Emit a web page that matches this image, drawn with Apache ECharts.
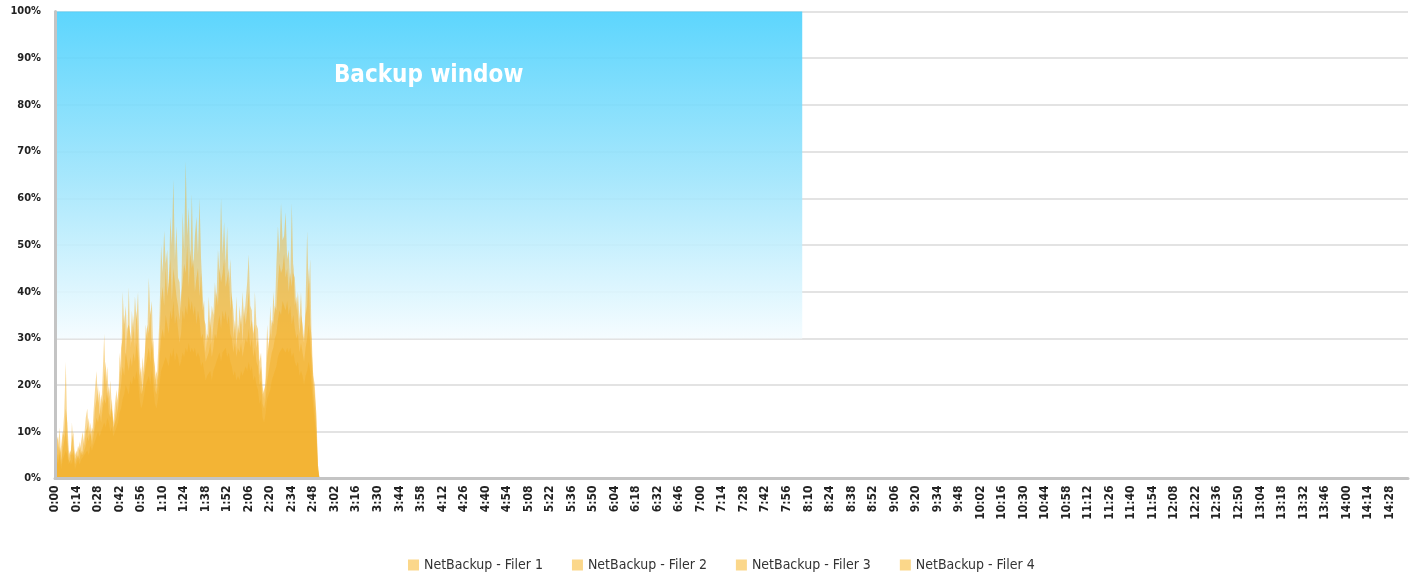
<!DOCTYPE html>
<html>
<head>
<meta charset="utf-8">
<script src="https://cdn.jsdelivr.net/npm/echarts@6/dist/echarts.min.js"></script>
<style>
html,body{margin:0;padding:0;background:#fff;}
#chart{width:1416px;height:578px;}
</style>
</head>
<body>
<div id="chart"></div>
<script>
// Time categories: one per minute, 0:00 .. 14:40
const categories = [];
for (let m = 0; m <= 880; m++) {
  categories.push(Math.floor(m / 60) + ':' + String(m % 60).padStart(2, '0'));
}
const seriesNames = ['NetBackup - Filer 1', 'NetBackup - Filer 2', 'NetBackup - Filer 3', 'NetBackup - Filer 4'];
const backupWindow = { start: '0:00', end: '8:06', low: 30, high: 100, label: 'Backup window' };

// Utilisation (%) per minute from 0:00 to 2:52
const filer1 = [
  3,11,6,11,4,9,14,25,10,4,
  3,12,7,5,6,4,8,5,6,9,
  13,15,9,12,8,14,19,23,16,19,
  14,22,31,20,24,17,21,15,12,16,
  19,14,27,22,40,33,37,30,41,28,
  36,31,39,34,40,27,20,26,22,33,
  30,43,35,38,26,24,19,27,35,50,
  44,53,46,49,40,56,50,64,47,54,
  43,42,36,57,49,68,52,58,46,61,
  45,52,56,48,60,47,40,34,33,29,
  39,32,37,35,42,38,49,44,60,48,
  55,46,54,41,47,39,36,31,39,30,
  37,33,40,34,38,42,48,37,36,29,
  40,33,32,25,27,20,17,22,33,27,
  37,30,40,35,46,54,48,59,51,52,
  57,47,49,42,59,44,43,36,40,34,
  40,31,29,38,53,40,47,27,22,20,
  12,2,0
];
const filer2 = [
  2,8,9,5,7,10,9,15,12,6,
  5,8,10,4,5,7,6,8,10,7,
  10,11,13,9,11,10,15,17,20,13,
  18,16,22,25,17,20,14,17,10,13,
  16,18,21,28,30,35,26,32,33,31,
  29,35,28,36,30,22,24,18,25,29,
  33,31,36,27,30,21,23,21,30,38,
  41,37,45,39,42,47,38,45,42,39,
  37,34,39,42,46,44,50,41,49,45,
  47,40,43,45,39,44,36,38,27,31,
  30,35,29,33,36,40,37,45,42,44,
  47,41,43,45,36,40,30,34,28,33,
  31,35,29,37,33,36,40,32,34,31,
  33,28,30,22,24,18,19,20,26,29,
  31,34,33,37,36,42,46,44,45,48,
  43,45,40,44,41,46,37,39,35,31,
  35,33,30,35,37,45,33,30,21,18,
  14,3,0
];
const filer3 = [
  4,6,4,7,3,6,8,10,7,4,
  6,5,6,3,4,5,4,6,5,6,
  7,9,8,10,7,9,11,13,12,14,
  12,15,17,16,19,14,13,15,11,12,
  13,15,18,20,24,22,27,25,23,26,
  24,27,25,29,26,20,18,19,22,24,
  26,28,25,30,22,19,18,20,26,30,
  32,30,35,33,31,36,34,38,33,35,
  32,29,31,36,34,37,35,39,36,38,
  35,37,33,36,34,30,31,28,25,26,
  27,29,26,28,31,30,33,35,32,36,
  34,36,33,35,31,30,27,29,26,28,
  27,29,26,28,30,29,32,28,30,26,
  28,25,24,20,21,16,15,17,21,23,
  25,27,28,30,31,34,36,35,38,37,
  36,38,35,37,33,35,32,30,31,27,
  29,27,25,28,30,33,29,24,18,15,
  10,3,0
];
const filer4 = [
  2,4,3,5,2,4,5,6,5,3,
  4,3,5,2,3,4,3,4,4,5,
  5,6,5,7,6,7,8,9,10,9,
  10,11,12,11,13,12,10,11,9,10,
  11,12,14,15,17,18,20,19,18,21,
  20,22,21,23,21,17,15,16,18,20,
  21,22,20,23,19,16,15,17,20,23,
  24,25,26,25,24,27,26,28,25,27,
  26,24,25,27,26,28,27,29,27,28,
  27,28,26,27,26,24,25,23,21,22,
  22,23,21,23,24,25,26,27,25,27,
  27,28,26,27,25,24,22,23,21,22,
  21,23,22,23,24,23,25,23,24,21,
  22,20,19,16,17,13,12,14,17,18,
  19,21,22,23,24,26,27,27,28,28,
  27,28,27,28,26,27,25,24,25,22,
  23,22,20,22,23,25,23,19,15,12,
  8,2,0
];
const filerData = [filer1, filer2, filer3, filer4];

const font = '"Liberation Sans Narrow", "DejaVu Sans Condensed", "Roboto Condensed", Arial, sans-serif';
const chart = echarts.init(document.getElementById('chart'), null, { renderer: 'canvas' });

const series = [{
  name: 'window',
  type: 'line',
  data: [],
  z: 1,
  silent: true,
  markArea: {
    silent: true,
    itemStyle: {
      opacity: 0.9,
      color: {
        type: 'linear', x: 0, y: 0, x2: 0, y2: 1,
        colorStops: [
          { offset: 0, color: '#4BD1FD' },
          { offset: 0.5, color: '#9CE4FC' },
          { offset: 1, color: '#F4FCFF' }
        ]
      }
    },
    label: {
      show: true,
      position: 'insideTop',
      distance: 52,
      color: '#ffffff',
      fontSize: 24,
      fontWeight: 'bold',
      fontFamily: font
    },
    data: [[
      { name: backupWindow.label, xAxis: backupWindow.start, yAxis: backupWindow.low },
      { xAxis: backupWindow.end, yAxis: backupWindow.high }
    ]]
  }
}];
seriesNames.forEach((n, i) => {
  series.push({
    name: n,
    type: 'line',
    data: filerData[i],
    z: 2,
    symbol: 'none',
    showSymbol: false,
    silent: true,
    lineStyle: { width: 0 },
    itemStyle: { color: '#F3AF25' },
    areaStyle: { color: '#F3AF25', opacity: 0.47 }
  });
});

chart.setOption({
  animation: false,
  backgroundColor: '#ffffff',
  grid: { left: 55, right: 8, top: 11.5, bottom: 99.5, containLabel: false },
  legend: {
    data: seriesNames,
    bottom: 1,
    left: 403,
    icon: 'rect',
    itemWidth: 11,
    itemHeight: 11,
    itemGap: 29,
    itemStyle: { color: '#FBD78A' },
    textStyle: { fontSize: 14, color: '#333', fontFamily: font }
  },
  xAxis: {
    type: 'category',
    data: categories,
    boundaryGap: false,
    z: 5,
    axisLine: { show: true, lineStyle: { color: '#C4C4C4', width: 3 } },
    axisTick: { show: false },
    splitLine: { show: false },
    axisLabel: {
      interval: 13,
      rotate: 90,
      margin: 7,
      fontSize: 12,
      fontWeight: 'bold',
      color: '#222',
      fontFamily: font
    }
  },
  yAxis: [{
    type: 'value',
    min: 0,
    max: 100,
    interval: 10,
    axisLine: { show: false },
    axisTick: { show: false },
    splitLine: { show: true, lineStyle: { color: '#E3E3E3', width: 2 } },
    axisLabel: {
      formatter: '{value}%',
      margin: 14,
      fontSize: 11,
      fontWeight: 'bold',
      color: '#222',
      fontFamily: font
    }
  }, {
    type: 'value',
    position: 'left',
    min: 0,
    max: 100,
    interval: 10,
    z: 5,
    axisLine: { show: true, onZero: false, lineStyle: { color: '#C4C4C4', width: 3 } },
    axisTick: { show: false },
    axisLabel: { show: false },
    splitLine: { show: false }
  }],
  series: series
});
</script>
</body>
</html>
